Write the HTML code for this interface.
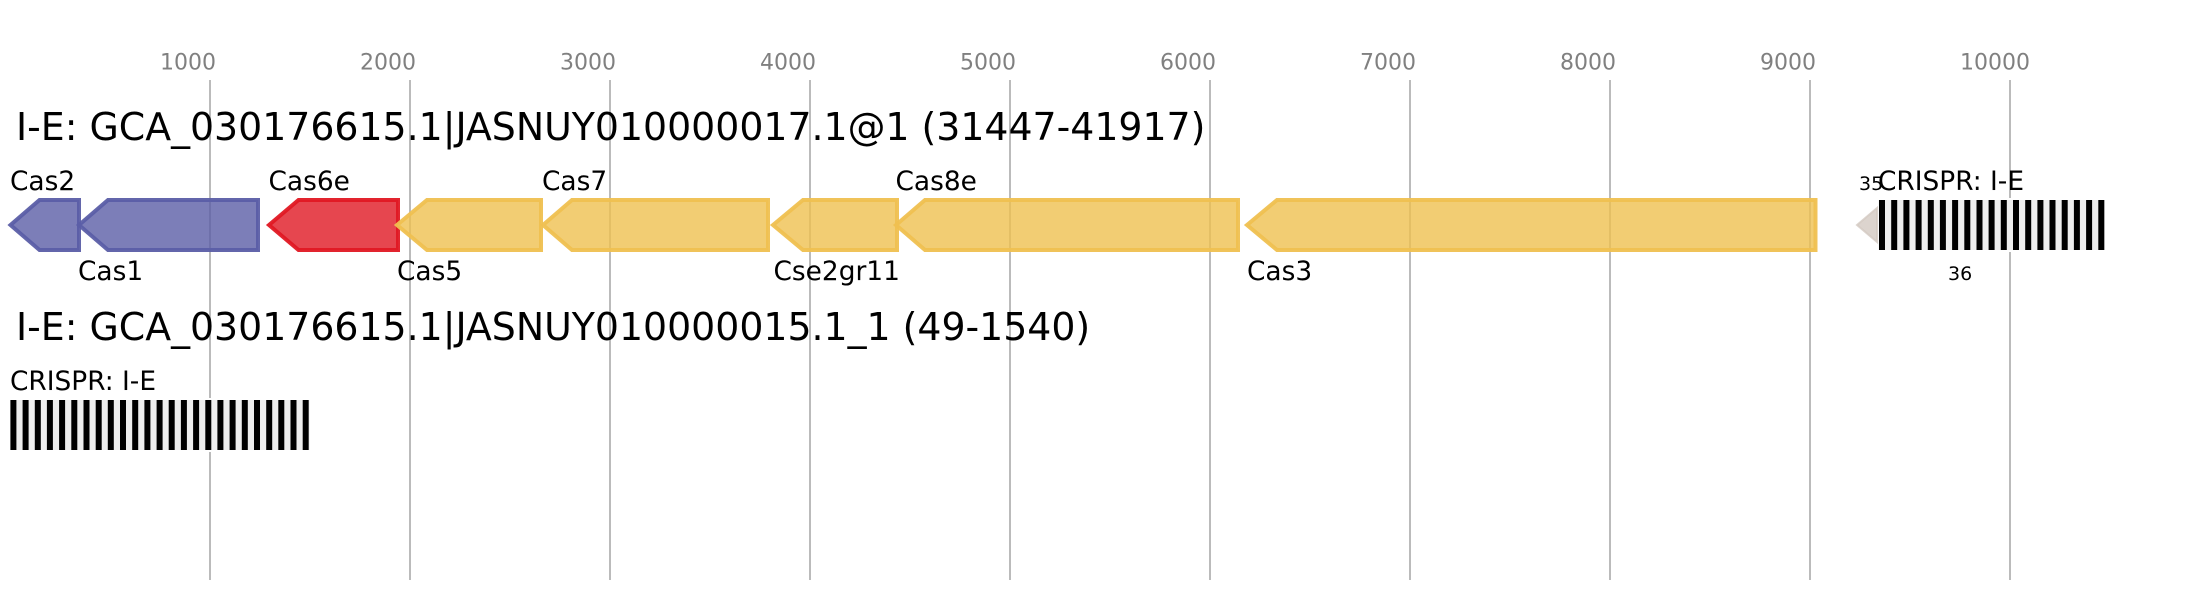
<!DOCTYPE html>
<html><head><meta charset="utf-8"><style>html,body{margin:0;padding:0;background:#fff}svg{display:block}text{font-family:"DejaVu Sans",sans-serif;fill:#000}.t{font-size:22px;fill:#808080}.l{font-size:26.4px}.h{font-size:37.85px}.s{font-size:19px}.b path{fill:#5b5ea6}.r path{fill:#e01823}.y path{fill:#efc050}.g path{fill-opacity:.8;stroke-opacity:.95;stroke-width:4}.b path{stroke:#5b5ea6}.r path{stroke:#e01823}.y path{stroke:#efc050}</style></head>
<body>
<svg width="2194" height="600" viewBox="0 0 2194 600" xmlns="http://www.w3.org/2000/svg">
<g stroke="#bbb" stroke-width="2"><line x1="210" y1="80" x2="210" y2="580"/><line x1="410" y1="80" x2="410" y2="580"/><line x1="610" y1="80" x2="610" y2="580"/><line x1="810" y1="80" x2="810" y2="580"/><line x1="1010" y1="80" x2="1010" y2="580"/><line x1="1210" y1="80" x2="1210" y2="580"/><line x1="1410" y1="80" x2="1410" y2="580"/><line x1="1610" y1="80" x2="1610" y2="580"/><line x1="1810" y1="80" x2="1810" y2="580"/><line x1="2010" y1="80" x2="2010" y2="580"/></g>
<text class="t" x="160" y="69.500">1000</text><text class="t" x="360" y="69.500">2000</text><text class="t" x="560" y="69.500">3000</text><text class="t" x="760" y="69.500">4000</text><text class="t" x="960" y="69.500">5000</text><text class="t" x="1160" y="69.500">6000</text><text class="t" x="1360" y="69.500">7000</text><text class="t" x="1560" y="69.500">8000</text><text class="t" x="1760" y="69.500">9000</text><text class="t" x="1960" y="69.500">10000</text>
<text class="h" x="16" y="140">I-E: GCA_030176615.1|JASNUY010000017.1@1 (31447-41917)</text>
<text class="h" x="16" y="340">I-E: GCA_030176615.1|JASNUY010000015.1_1 (49-1540)</text>
<g class="g b">
<path d="M10.500 225L39.500 200H79V250H39.500Z"/>
<path d="M79 225L108 200H258V250H108Z"/>
</g>
<g class="g r"><path d="M269 225L298.500 200H398V250H298.500Z"/></g>
<g class="g y">
<path d="M397 225L427 200H541V250H427Z"/>
<path d="M543 225L572 200H768V250H572Z"/>
<path d="M773 225L803 200H897V250H803Z"/>
<path d="M896 225L925 200H1238V250H925Z"/>
<path d="M1247 225L1277 200H1815.500V250H1277Z"/>
</g>
<text class="l" x="10" y="190">Cas2</text><text class="l" x="78" y="280">Cas1</text><text class="l" x="268.500" y="190">Cas6e</text><text class="l" x="397" y="280">Cas5</text><text class="l" x="542" y="190">Cas7</text><text class="l" x="773.500" y="280">Cse2gr11</text><text class="l" x="895.500" y="190">Cas8e</text><text class="l" x="1247" y="280">Cas3</text><text class="l" x="10" y="390">CRISPR: I-E</text>
<rect x="8" y="398" width="303" height="54" fill="#fff"/><rect x="1876" y="198" width="231" height="54" fill="#fff"/>
<rect x="10.500" y="400" width="299" height="50" fill="#eee"/><rect x="1878.700" y="200" width="226" height="50" fill="#eee"/>
<path d="M1857 225L1877 208V242Z" fill="#d3c9c2" fill-opacity=".8" stroke="#d3c9c2" stroke-opacity=".8" stroke-width="2"/>
<g fill="#000">
<g transform="translate(.4 0)"><rect x="10" y="400" width="6" height="50"/><rect x="22.2" y="400" width="6" height="50"/><rect x="34.4" y="400" width="6" height="50"/><rect x="46.5" y="400" width="6" height="50"/><rect x="58.7" y="400" width="6" height="50"/><rect x="70.9" y="400" width="6" height="50"/><rect x="83.1" y="400" width="6" height="50"/><rect x="95.3" y="400" width="6" height="50"/><rect x="107.4" y="400" width="6" height="50"/><rect x="119.6" y="400" width="6" height="50"/><rect x="131.8" y="400" width="6" height="50"/><rect x="144" y="400" width="6" height="50"/><rect x="156.2" y="400" width="6" height="50"/><rect x="168.3" y="400" width="6" height="50"/><rect x="180.5" y="400" width="6" height="50"/><rect x="192.7" y="400" width="6" height="50"/><rect x="204.9" y="400" width="6" height="50"/><rect x="217" y="400" width="6" height="50"/><rect x="229.2" y="400" width="6" height="50"/><rect x="241.4" y="400" width="6" height="50"/><rect x="253.6" y="400" width="6" height="50"/><rect x="265.8" y="400" width="6" height="50"/><rect x="277.9" y="400" width="6" height="50"/><rect x="290.1" y="400" width="6" height="50"/><rect x="302.3" y="400" width="6" height="50"/></g>
<g transform="translate(.6 0)"><rect x="1878.4" y="200" width="6" height="50"/><rect x="1890.6" y="200" width="6" height="50"/><rect x="1902.8" y="200" width="6" height="50"/><rect x="1915" y="200" width="6" height="50"/><rect x="1927.2" y="200" width="6" height="50"/><rect x="1939.3" y="200" width="6" height="50"/><rect x="1951.5" y="200" width="6" height="50"/><rect x="1963.7" y="200" width="6" height="50"/><rect x="1975.9" y="200" width="6" height="50"/><rect x="1988" y="200" width="6" height="50"/><rect x="2000.2" y="200" width="6" height="50"/><rect x="2012.4" y="200" width="6" height="50"/><rect x="2024.6" y="200" width="6" height="50"/><rect x="2036.8" y="200" width="6" height="50"/><rect x="2048.9" y="200" width="6" height="50"/><rect x="2061.1" y="200" width="6" height="50"/><rect x="2073.3" y="200" width="6" height="50"/><rect x="2085.5" y="200" width="6" height="50"/><rect x="2097.7" y="200" width="6" height="50"/></g>
</g>
<text class="s" x="1859" y="190">35</text><text class="l" x="1878" y="190">CRISPR: I-E</text><text class="s" x="1948" y="280">36</text>
</svg>
</body></html>
